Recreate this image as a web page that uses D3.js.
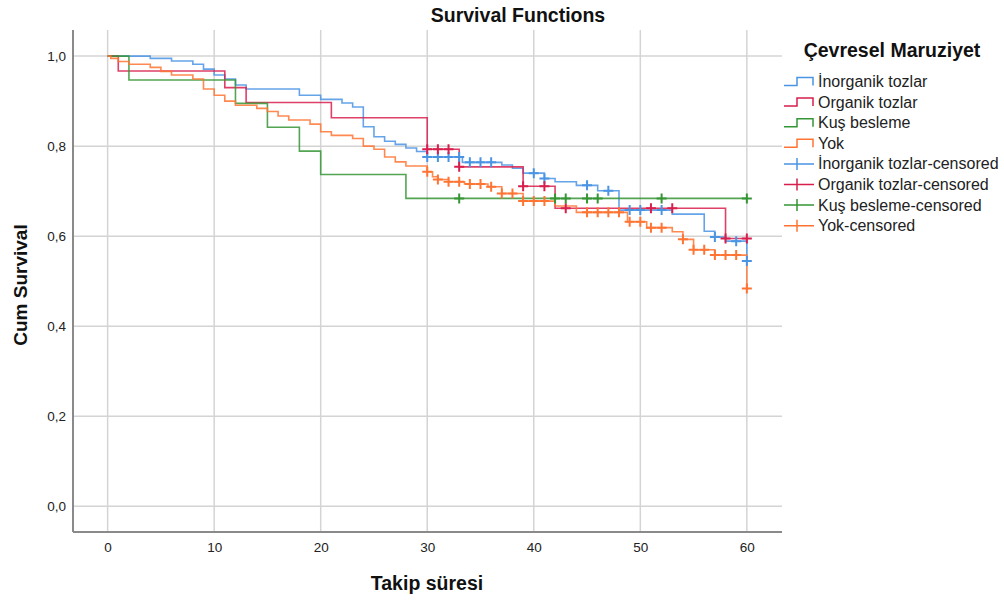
<!DOCTYPE html>
<html>
<head>
<meta charset="utf-8">
<script src="https://cdn.jsdelivr.net/npm/d3@7"></script>
<style>
  html, body { margin: 0; padding: 0; background: #fff; }
  svg { display: block; font-family: Arial, "Liberation Sans", sans-serif; }
</style>
</head>
<body>
<svg id="chart" width="1004" height="601"></svg>
<script>
// group names (legend order)
const groups = ["İnorganik tozlar", "Organik tozlar", "Kuş besleme", "Yok"];
const groupColors = ["#4a94e4", "#d81e4c", "#359535", "#ff7433"];

// step times / survival values
const inorgTimes  = [4, 6, 8, 9, 10, 11, 12, 13, 18, 20, 22, 23, 24, 25, 26, 27, 28, 29, 30, 33.3, 37, 38, 39, 41, 42, 44, 46, 48, 53, 56, 57, 58, 60];
const inorgSurv   = [0.995, 0.989, 0.982, 0.971, 0.958, 0.949, 0.936, 0.927, 0.913, 0.904, 0.896, 0.887, 0.843, 0.821, 0.811, 0.804, 0.796, 0.788, 0.776, 0.764, 0.758, 0.751, 0.740, 0.728, 0.721, 0.713, 0.701, 0.658, 0.649, 0.611, 0.598, 0.589, 0.545];
const inorgCens   = [30, 31, 32, 33, 34, 35, 36, 40, 41, 45, 47, 49, 50, 52, 57, 59, 60];

const orgTimes    = [1, 11, 13, 21, 30, 33, 39, 42, 58];
const orgSurv     = [0.967, 0.930, 0.897, 0.863, 0.793, 0.754, 0.711, 0.662, 0.595];
const orgCens     = [30, 31, 32, 33, 39, 41, 43, 51, 53, 58, 60];

const kusTimes    = [2, 12, 15, 18, 20, 28];
const kusSurv     = [0.947, 0.895, 0.842, 0.789, 0.737, 0.684];
const kusCens     = [33, 42, 43, 45, 46, 52, 60];

const yokTimes    = [0.3, 1, 2, 4, 5, 6, 8, 9, 10, 11, 12, 14, 15, 16, 17, 19, 20, 21, 23, 24, 25, 26, 27, 28, 30, 30.5, 31, 32, 33.5, 35.7, 37, 39, 42, 44, 48.8, 50.6, 53, 54, 55, 57, 60];
const yokSurv     = [0.995, 0.988, 0.982, 0.975, 0.966, 0.958, 0.949, 0.927, 0.913, 0.900, 0.891, 0.884, 0.877, 0.867, 0.858, 0.849, 0.832, 0.824, 0.817, 0.800, 0.793, 0.776, 0.765, 0.756, 0.743, 0.732, 0.726, 0.721, 0.716, 0.710, 0.695, 0.678, 0.667, 0.653, 0.632, 0.619, 0.610, 0.593, 0.570, 0.558, 0.484];
const yokCens     = [30, 31, 32, 33, 34, 35, 36, 37, 38, 39, 40, 41, 45, 46, 47, 48, 49, 50, 51, 52, 54, 55, 56, 57, 58, 59, 60];

const xTicks = [0, 10, 20, 30, 40, 50, 60];
const yTicks = [0, 0.2, 0.4, 0.6, 0.8, 1.0];

const series = [
  { name: groups[0], color: groupColors[0], times: inorgTimes, surv: inorgSurv, cens: inorgCens },
  { name: groups[1], color: groupColors[1], times: orgTimes,   surv: orgSurv,   cens: orgCens },
  { name: groups[2], color: groupColors[2], times: kusTimes,   surv: kusSurv,   cens: kusCens },
  { name: groups[3], color: groupColors[3], times: yokTimes,   surv: yokSurv,   cens: yokCens },
];

const svg = d3.select("#chart");
const plotLeft = 73, plotRight = 782, plotTop = 30, plotBottom = 532;

const x = d3.scaleLinear().domain([-3.25, 63.3]).range([plotLeft, plotRight]);
const y = d3.scaleLinear().domain([-0.057, 1.058]).range([plotBottom, plotTop]);

// gridlines
const grid = svg.append("g");
grid.selectAll("line.h")
  .data(yTicks)
  .join("line")
  .attr("class", "h")
  .attr("x1", plotLeft).attr("x2", plotRight)
  .attr("y1", d => y(d)).attr("y2", d => y(d))
  .attr("stroke", "#d4d4d4")
  .attr("stroke-width", 1.5);
grid.selectAll("line.v")
  .data(xTicks)
  .join("line")
  .attr("class", "v")
  .attr("y1", plotTop).attr("y2", plotBottom)
  .attr("x1", d => x(d)).attr("x2", d => x(d))
  .attr("stroke", "#d4d4d4")
  .attr("stroke-width", 1.5);

// axes
const comma = d => d3.format(".1f")(d).replace(".", ",");

const xAxis = svg.append("g")
  .attr("transform", `translate(0,${plotBottom})`)
  .call(d3.axisBottom(x).tickValues(xTicks).tickSize(0).tickPadding(10));
const yAxis = svg.append("g")
  .attr("transform", `translate(${plotLeft},0)`)
  .call(d3.axisLeft(y).tickValues(yTicks).tickFormat(comma).tickSize(0).tickPadding(7));

[xAxis, yAxis].forEach(a => {
  a.select(".domain").attr("stroke", "#8a8a8a").attr("stroke-width", 2);
  a.selectAll("text")
    .attr("font-family", "Arial, 'Liberation Sans', sans-serif")
    .attr("font-size", "13.5px")
    .attr("fill", "#222");
});
xAxis.select(".domain").attr("d", `M${plotLeft},0H${plotRight}`);
yAxis.select(".domain").attr("d", `M0,${plotTop}V${plotBottom}`);

// survival step lines
const line = d3.line()
  .x(d => x(d[0]))
  .y(d => y(d[1]))
  .curve(d3.curveStepAfter);

const survAt = (s, t) => {
  let v = 1;
  s.times.forEach((tt, i) => { if (tt <= t) v = s.surv[i]; });
  return v;
};

const curves = svg.append("g");
series.forEach(s => {
  const pts = [[0, 1]].concat(s.times.map((t, i) => [t, s.surv[i]]));
  pts.push([60, s.surv[s.surv.length - 1]]);
  curves.append("path")
    .datum(pts)
    .attr("d", line)
    .attr("fill", "none")
    .attr("stroke", s.color)
    .attr("stroke-width", 1.6)
    .attr("stroke-opacity", 0.85);
});

// censor marks
series.forEach(s => {
  curves.append("g")
    .selectAll("path")
    .data(s.cens)
    .join("path")
    .attr("transform", d => `translate(${x(d)},${y(survAt(s, d))})`)
    .attr("d", "M-5,0H5M0,-5V5")
    .attr("stroke", s.color)
    .attr("stroke-width", 2)
    .attr("fill", "none");
});

// titles
svg.append("text")
  .attr("x", 518).attr("y", 22)
  .attr("text-anchor", "middle")
  .attr("font-size", "19.5px").attr("font-weight", "bold")
  .attr("fill", "#111")
  .text("Survival Functions");

svg.append("text")
  .attr("x", 427).attr("y", 590)
  .attr("text-anchor", "middle")
  .attr("font-size", "19.5px").attr("font-weight", "bold")
  .attr("fill", "#111")
  .text("Takip süresi");

svg.append("text")
  .attr("transform", "translate(27,285) rotate(-90)")
  .attr("text-anchor", "middle")
  .attr("font-size", "19px").attr("font-weight", "bold")
  .attr("fill", "#111")
  .text("Cum Survival");

// legend
const legend = svg.append("g");
legend.append("text")
  .attr("x", 892).attr("y", 57)
  .attr("text-anchor", "middle")
  .attr("font-size", "19.5px").attr("font-weight", "bold")
  .attr("fill", "#111")
  .text("Çevresel Maruziyet");

const items = series.map(s => ({ label: s.name, color: s.color, kind: "step" }))
  .concat(series.map(s => ({ label: s.name + "-censored", color: s.color, kind: "cens" })));

const item = legend.selectAll("g.item")
  .data(items)
  .join("g")
  .attr("class", "item")
  .attr("transform", (d, i) => `translate(0,${81.5 + i * 20.6})`);

item.append("path")
  .attr("d", d => d.kind === "step"
    ? "M784,4H797V-4H813V4"
    : "M784,0H814M797,-6V6")
  .attr("fill", "none")
  .attr("stroke", d => d.color)
  .attr("stroke-width", 1.5);

item.append("text")
  .attr("x", 818).attr("y", 5.5)
  .attr("font-size", "16px")
  .attr("fill", "#222")
  .text(d => d.label);
</script>
</body>
</html>
